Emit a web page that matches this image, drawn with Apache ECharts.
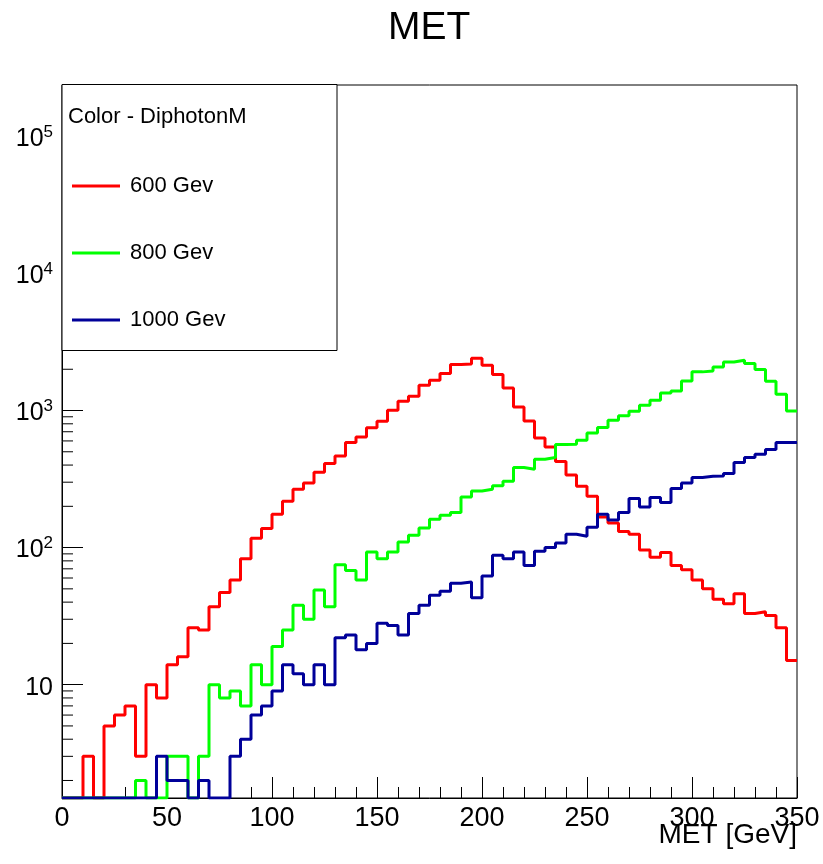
<!DOCTYPE html>
<html>
<head>
<meta charset="utf-8">
<script src="https://cdn.jsdelivr.net/npm/echarts@6/dist/echarts.min.js"></script>
<style>
  html, body { margin: 0; padding: 0; background: #fff; }
  #chart { width: 823px; height: 864px; }
</style>
</head>
<body>
<div id="chart"></div>
<script>
// histogram binning: 70 bins of 5 GeV from 0 to 350
var binLow = 0;
var binWidth = 5;

var seriesNames = ['600 Gev', '800 Gev', '1000 Gev'];
var seriesColors = ['#ff0000', '#00ff00', '#000099'];

// bin contents
var met600 = [0, 0, 3, 0, 5, 6, 7, 3, 10, 8,
    14, 16, 26, 25, 37, 47, 58, 83, 117, 138,
    175, 218, 266, 296, 354, 410, 466, 584, 641, 750,
    836, 1005, 1169, 1271, 1530, 1665, 1862, 2166, 2180, 2410,
    2142, 1831, 1462, 1062, 840, 631, 542, 425, 339, 280,
    237, 167, 151, 131, 125, 96, 85, 92, 74, 69,
    58, 50, 42, 39, 46, 33, 34, 32, 26, 15];

var met800 = [0, 0, 0, 0, 0, 0, 0, 2, 0, 0,
    3, 3, 0, 3, 10, 8, 9, 7, 14, 10,
    19, 25, 38, 30, 49, 37, 75, 68, 58, 93,
    83, 93, 110, 123, 139, 161, 172, 180, 234, 259,
    266, 282, 305, 384, 373, 441, 454, 565, 568, 607,
    686, 751, 849, 914, 989, 1093, 1189, 1344, 1390, 1644,
    1914, 1946, 2081, 2263, 2328, 2203, 1992, 1637, 1314, 993];

var met1000 = [0, 0, 0, 0, 0, 0, 0, 0, 0, 3,
    2, 2, 0, 2, 0, 0, 3, 4, 6, 7,
    9, 14, 12, 10, 14, 10, 22, 23, 18, 20,
    28, 27, 23, 33, 38, 45, 48, 55, 56, 43,
    62, 88, 83, 93, 74, 94, 100, 108, 125, 121,
    141, 175, 159, 180, 228, 198, 232, 213, 270, 296,
    324, 331, 333, 347, 417, 454, 480, 519, 584, 584];

var xMin = 0, xMax = 350;
var yMin = 1.49, yMax = 2.37e5;

var FONT = '"Liberation Sans", Arial, Helvetica, sans-serif';

// turn bin contents into step points at bin edges; empty bins sit on the frame bottom
function histPoints(values) {
    var pts = [];
    for (var i = 0; i < values.length; i++)
        pts.push([binLow + i * binWidth, Math.max(values[i], yMin)]);
    pts.push([binLow + values.length * binWidth, Math.max(values[values.length - 1], yMin)]);
    return pts;
}

// log minor ticks 2..9 x 10^k inside the y range
function logMinorTicks() {
    var out = [];
    for (var k = 0; k <= 5; k++)
        for (var m = 2; m <= 9; m++) {
            var v = m * Math.pow(10, k);
            if (v > yMin && v < yMax) out.push([0, v]);
        }
    return out;
}

function yLabel(v) {
    var e = Math.log10(v);
    var r = Math.round(e);
    if (Math.abs(e - r) > 1e-6) return '';
    if (r === 1) return '{a|10}';
    return '{a|10}{b|' + r + '}';
}

var chart = echarts.init(document.getElementById('chart'));

var series = [];
var hists = [met600, met800, met1000];
for (var s = 0; s < hists.length; s++) {
    series.push({
        name: seriesNames[s],
        type: 'line',
        step: 'end',
        data: histPoints(hists[s]),
        showSymbol: false,
        symbol: 'none',
        color: seriesColors[s],
        lineStyle: { color: seriesColors[s], width: 3 },
        itemStyle: { color: seriesColors[s] },
        animation: false,
        z: 3 + s
    });
}

series.push({
    type: 'custom',
    silent: true,
    animation: false,
    data: logMinorTicks(),
    encode: { x: 0, y: 1 },
    z: 10,
    renderItem: function (params, api) {
        var p = api.coord([0, api.value(1)]);
        return {
            type: 'line',
            shape: { x1: p[0], y1: p[1], x2: p[0] + 11, y2: p[1] },
            style: { stroke: '#000', lineWidth: 1 }
        };
    }
});

chart.setOption({
    backgroundColor: '#fff',
    animation: false,
    title: {
        text: 'MET',
        left: 383,
        top: 4,
        textStyle: { fontFamily: FONT, fontSize: 39, fontWeight: 'normal', color: '#000' }
    },
    grid: {
        left: 62, right: 26, top: 85, bottom: 66,
        outerBoundsMode: 'none',
        containLabel: false,
        show: true, borderColor: '#000', borderWidth: 1
    },
    legend: {
        data: seriesNames,
        orient: 'vertical',
        left: 72,
        top: 175,
        padding: 0,
        icon: 'rect',
        itemWidth: 48,
        itemHeight: 3,
        itemGap: 45,
        z: 20,
        textStyle: { fontFamily: FONT, fontSize: 22, color: '#000', lineHeight: 22, padding: [0, 0, 0, 5] }
    },
    graphic: [
        {
            type: 'rect',
            z: 15,
            shape: { x: 62, y: 84.5, width: 275, height: 266 },
            style: { fill: '#fff', stroke: '#000', lineWidth: 1 }
        },
        {
            type: 'text',
            z: 16,
            left: 68,
            top: 106,
            style: { text: 'Color - DiphotonM', font: '22px ' + FONT, fill: '#000' }
        },
        {
            // x axis title, right-aligned under the frame
            type: 'text',
            z: 16,
            right: 26,
            top: 821,
            style: { text: 'MET [GeV]', font: '28px ' + FONT, fill: '#000' }
        }
    ],
    xAxis: {
        type: 'value',
        min: xMin,
        max: xMax,
        interval: 50,
        axisLine: { lineStyle: { color: '#000', width: 1 } },
        axisTick: { inside: true, length: 21, lineStyle: { color: '#000' } },
        minorTick: { show: true, splitNumber: 5, length: 11, lineStyle: { color: '#000' } },
        splitLine: { show: false },
        axisLabel: {
            fontFamily: FONT, fontSize: 27, color: '#000', margin: 7,
            showMinLabel: true, showMaxLabel: true
        }
    },
    yAxis: {
        type: 'log',
        logBase: 10,
        min: yMin,
        max: yMax,
        axisLine: { show: true, lineStyle: { color: '#000', width: 1 } },
        axisTick: { show: true, inside: true, length: 21, lineStyle: { color: '#000' } },
        splitLine: { show: false },
        axisLabel: {
            margin: 9,
            formatter: yLabel,
            rich: {
                a: { fontFamily: FONT, fontSize: 25, color: '#000', lineHeight: 25, padding: [6, 0, 0, 0] },
                b: { fontFamily: FONT, fontSize: 17, color: '#000', lineHeight: 17, verticalAlign: 'top' }
            }
        }
    },
    series: series
});
</script>
</body>
</html>
